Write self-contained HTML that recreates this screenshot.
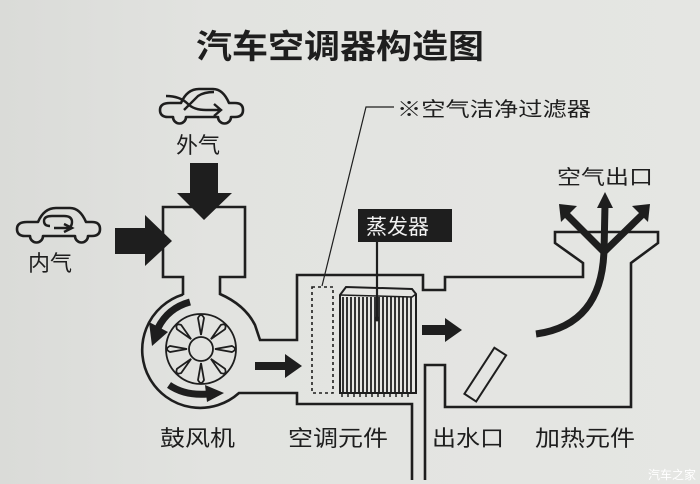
<!DOCTYPE html>
<html><head><meta charset="utf-8"><style>
html,body{margin:0;padding:0;}
body{width:700px;height:484px;overflow:hidden;background:#e3e4e1;}
svg{display:block}
text{font-family:"Liberation Sans","Noto Sans CJK SC",sans-serif;fill:#1e1e1e;}
</style></head><body>
<svg width="700" height="484" viewBox="0 0 700 484" xmlns="http://www.w3.org/2000/svg">
<defs>
<linearGradient id="bg" x1="0" x2="1" y1="0" y2="0">
<stop offset="0" stop-color="#dadbd8"/><stop offset="0.3" stop-color="#e2e3e0"/><stop offset="1" stop-color="#e5e6e3"/>
</linearGradient>
<g id="car">
<path d="M25,236 Q17,236 17,229 Q17,222 27,222 L38,222 Q44,208 56,208 L70,208 Q80,208 86,222 L92,222 Q100,222 100,229 Q100,236 92,236 L88,236 A6.5,6.5 0 0 1 75,236 L43,236 A6.5,6.5 0 0 1 30,236 Z" fill="none" stroke="#1e1e1e" stroke-width="2.6" stroke-linejoin="round"/>
</g>
</defs>
<rect width="700" height="484" fill="url(#bg)"/>

<text x="196" y="58" font-size="33" font-weight="bold" textLength="288" lengthAdjust="spacingAndGlyphs" style="font-family:'Noto Sans CJK SC',sans-serif">汽车空调器构造图</text>

<use href="#car"/>
<path d="M50,226 Q44,226 44,221 Q44,216 52,216 L64,216 M64,216 Q72,216 72,222 Q72,228 66,228 L54,228 M64,224 L72,228 L64,232" fill="none" stroke="#1e1e1e" stroke-width="2.4"/>
<use href="#car" transform="translate(143,-119)"/>
<path d="M166,96 Q180,96 188,104 Q194,110 206,110 L220,110 M214,104 L221,110 L214,116 M184,110 Q192,102 198,96 Q204,92 214,92" fill="none" stroke="#1e1e1e" stroke-width="2.4"/>

<text x="28" y="271" font-size="22">内气</text>
<text x="176" y="153" font-size="22">外气</text>

<path d="M190,163 L218,163 L218,193 L232,193 L204,220 L177,193 L190,193 Z" fill="#1e1e1e"/>
<path d="M115,228 L145,228 L145,215 L172,241 L145,266 L145,254 L115,254 Z" fill="#1e1e1e"/>

<g fill="none" stroke="#1e1e1e" stroke-width="2.6" stroke-linejoin="miter">
<path d="M183,295 L183,277 L163,277 L163,207 L245,207 L245,277 L220,277 L220,294 Q245,305 255,325 L260,340 L297,340 L297,275 L423,275 L423,290 L445,290 L445,277 L583,277 L583,263 L555,243 L555,232 L658,232 L658,243 L631,263 L631,407 L445,407 L445,365 L425,365 L425,480"/>
<path d="M183,294.5 A58,58 0 1 0 239,393 L297,393 L297,404 L412,404 L412,480"/>
</g>
<g fill="none" stroke="#1e1e1e" stroke-width="1.8">
<circle cx="201" cy="349" r="35"/>
<circle cx="201" cy="349" r="12"/>
<g id="bl"><path d="M201,335 L198,318 Q201,312 204,318 Z"/></g>
<use href="#bl" transform="rotate(45 201 349)"/><use href="#bl" transform="rotate(90 201 349)"/>
<use href="#bl" transform="rotate(135 201 349)"/><use href="#bl" transform="rotate(180 201 349)"/>
<use href="#bl" transform="rotate(225 201 349)"/><use href="#bl" transform="rotate(270 201 349)"/>
<use href="#bl" transform="rotate(315 201 349)"/>
</g>
<path d="M190,302 Q168,308 158,328" fill="none" stroke="#1e1e1e" stroke-width="7"/>
<path d="M149,322 L152,346 L168,332 Z" fill="#1e1e1e"/>
<path d="M169,385 Q185,396 208,394" fill="none" stroke="#1e1e1e" stroke-width="7"/>
<path d="M205,385 L224,393 L207,402 Z" fill="#1e1e1e"/>

<path d="M255,362 L285,362 L285,354 L302,366 L285,378 L285,370 L255,370 Z" fill="#1e1e1e"/>
<path d="M422,325 L445,325 L445,318 L462,330 L445,342 L445,335 L422,335 Z" fill="#1e1e1e"/>

<rect x="312" y="287" width="21" height="106" fill="none" stroke="#1e1e1e" stroke-width="1.6" stroke-dasharray="3,3"/>
<path d="M322,286 L366,107 L394,107" fill="none" stroke="#1e1e1e" stroke-width="1.2"/>
<text x="397" y="116" font-size="20" textLength="194" lengthAdjust="spacingAndGlyphs">※空气洁净过滤器</text>

<g stroke="#1e1e1e" fill="none">
<path d="M340,295 L346,287 L412,289 L416,294 L416,393 L340,393 Z" stroke-width="2" fill="#e6e6e3"/>
<path d="M340,295 L412,297 L416,294" stroke-width="1.5"/>
<path d="M343,297 V392 M347,297 V392 M351,297 V392 M355,297 V392 M359,297 V392 M363,297 V392 M367,297 V392 M371,297 V392 M375,297 V392 M379,297 V392 M383,297 V392 M387,297 V392 M391,297 V392 M395,297 V392 M399,297 V392 M403,297 V392 M407,297 V392 M411,297 V392" stroke-width="1.8"/>
<path d="M342,392 V397 M348,392 V397 M354,392 V397 M360,392 V397 M366,392 V397 M372,392 V397 M378,392 V397 M384,392 V397 M390,392 V397 M396,392 V397 M402,392 V397 M408,392 V397" stroke-width="1.5"/>
</g>
<line x1="377" y1="242" x2="377" y2="319" stroke="#1e1e1e" stroke-width="2.2"/>
<circle cx="377" cy="319" r="2.5" fill="#1e1e1e"/>
<rect x="358" y="209" width="94" height="33" fill="#1e1e1e"/>
<text x="366" y="234" font-size="21" style="fill:#f2f2f2">蒸发器</text>

<rect x="478" y="347" width="14" height="55" fill="none" stroke="#1e1e1e" stroke-width="2" transform="rotate(33 485 375)"/>

<g fill="none" stroke="#1e1e1e" stroke-width="7">
<path d="M536,334 Q602,325 604,250"/>
<path d="M604,252 L605,205"/>
<path d="M604,252 L566,214"/>
<path d="M604,252 L643,214"/>
</g>
<path d="M597,208 L605,192 L613,208 Z" fill="#1e1e1e"/>
<path d="M559,204 L577,206 L561,222 Z" fill="#1e1e1e"/>
<path d="M650,204 L632,206 L648,222 Z" fill="#1e1e1e"/>
<text x="557" y="184" font-size="20" textLength="96" lengthAdjust="spacingAndGlyphs">空气出口</text>

<text x="160" y="446" font-size="22" textLength="75" lengthAdjust="spacingAndGlyphs">鼓风机</text>
<text x="288" y="446" font-size="22" textLength="100" lengthAdjust="spacingAndGlyphs">空调元件</text>
<text x="432" y="446" font-size="22" textLength="72" lengthAdjust="spacingAndGlyphs">出水口</text>
<text x="535" y="446" font-size="22" textLength="100" lengthAdjust="spacingAndGlyphs">加热元件</text>
<text x="648" y="479" font-size="12" style="fill:#ffffff">汽车之家</text>
</svg>
</body></html>
